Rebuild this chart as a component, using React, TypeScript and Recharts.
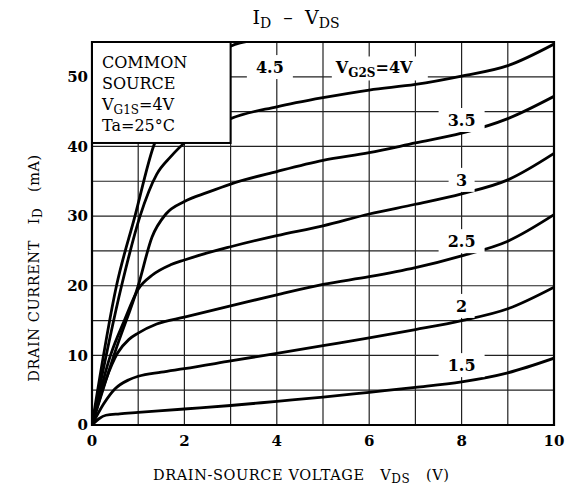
import React from 'react';
import { LineChart, Line, XAxis, YAxis, CartesianGrid, ReferenceArea, ReferenceDot } from 'recharts';

// VDS (V) and ID (mA)
const vds15 = [0, 0.15, 0.3, 0.6, 1, 2, 3, 4, 5, 6, 7, 8, 9, 10];
const id15 = [0, 0.9, 1.4, 1.6, 1.8, 2.3, 2.8, 3.4, 4.0, 4.7, 5.4, 6.2, 7.5, 9.6];

const vds20 = [0, 0.25, 0.5, 0.8, 1, 1.5, 2, 3, 4, 5, 6, 7, 8, 9, 10];
const id20 = [0, 3, 5.2, 6.5, 7, 7.6, 8.1, 9.2, 10.3, 11.4, 12.5, 13.7, 15.0, 16.7, 19.8];

const vds25 = [0, 0.3, 0.55, 0.8, 1, 1.4, 2, 3, 4, 5, 6, 7, 8, 9, 10];
const id25 = [0, 6.5, 10.3, 12.3, 13.2, 14.5, 15.5, 17.1, 18.7, 20.2, 21.3, 22.6, 24.3, 26.4, 30.2];

const vds30 = [0, 0.4, 0.7, 1, 1.3, 1.7, 2, 3, 4, 5, 6, 7, 8, 9, 10];
const id30 = [0, 10, 15, 19.5, 21.5, 23, 23.7, 25.6, 27.2, 28.6, 30.3, 31.7, 33.2, 35.2, 39];

const vds35 = [0, 0.5, 1, 1.3, 1.6, 2, 2.5, 3, 4, 5, 6, 7, 8, 9, 10];
const id35 = [0, 10.5, 20, 27, 30.3, 32.1, 33.4, 34.6, 36.4, 38.0, 39.1, 40.5, 41.9, 44.0, 47.2];

const vds40 = [0, 0.64, 1.04, 1.4, 1.7, 2, 2.5, 3, 4, 5, 6, 7, 8, 9, 10];
const id40 = [0, 20, 30, 36, 38.5, 40.5, 42.4, 44, 45.7, 47, 48.1, 48.9, 50.1, 51.6, 54.7];

const vds45 = [0, 0.53, 0.93, 1.33, 1.7, 2.2, 3, 3.6];
const id45 = [0, 20, 30, 40, 45, 49.5, 54.4, 55.3];

const xTicks = [0, 1, 2, 3, 4, 5, 6, 7, 8, 9, 10];
const yTicks = [0, 5, 10, 15, 20, 25, 30, 35, 40, 45, 50, 55];

// curve labels: [text, vds, id]
const curveLabels: [string, number, number][] = [
  ['4.5', 3.85, 51.4],
  ['3.5', 8, 43.8],
  ['3', 8, 35.2],
  ['2.5', 8, 26.4],
  ['2', 8, 17.1],
  ['1.5', 8, 8.6],
];

// conditions box, in data units
const boxX = [0, 3];
const boxY = [40.5, 55];

const toPoints = (xs: number[], ys: number[]) => xs.map((v, i) => ({ vds: v, id: ys[i] }));

const curves = [
  toPoints(vds15, id15),
  toPoints(vds20, id20),
  toPoints(vds25, id25),
  toPoints(vds30, id30),
  toPoints(vds35, id35),
  toPoints(vds40, id40),
  toPoints(vds45, id45),
];

const W = 573;
const H = 491;
const M = { top: 42, right: 19, bottom: 36, left: 0 };
const Y_AXIS_W = 92;
const X_MAX = 10;
const Y_MAX = 55;
const plotL = M.left + Y_AXIS_W;
const plotW = W - M.right - plotL;
const plotH = H - M.top - M.bottom - 30;
const sx = (v: number) => plotL + (v / X_MAX) * plotW;
const sy = (v: number) => M.top + ((Y_MAX - v) / Y_MAX) * plotH;

const FONT = '"DejaVu Serif", "Liberation Serif", serif';

const labelShape = (txt: string) => (p: any) => {
  const w = txt.length * 10 + 16;
  return (
    <g>
      <rect x={p.cx - w / 2} y={p.cy - 12} width={w} height={24} fill="#fff" />
      <text x={p.cx} y={p.cy + 6} textAnchor="middle" fontFamily={FONT} fontSize={16} fontWeight="bold" fill="#000">
        {txt}
      </text>
    </g>
  );
};

const vg2sShape = (p: any) => (
  <g>
    <rect x={p.cx - 48} y={p.cy - 12} width={96} height={24} fill="#fff" />
    <text x={p.cx - 44} y={p.cy + 5} fontFamily={FONT} fontSize={16} fontWeight="bold" fill="#000">
      V<tspan fontSize={12} dy={4}>G2S</tspan>
      <tspan dy={-4}>=4V</tspan>
    </text>
  </g>
);

const pre: React.CSSProperties = { whiteSpace: 'pre' };

const App: React.FC = () => {
  const bx = sx(boxX[0]);
  const by = sy(boxY[1]);
  const bw = sx(boxX[1]) - bx;
  const bh = sy(boxY[0]) - by;
  return (
    <div style={{ position: 'absolute', left: 0, top: 0, width: W, height: H, background: '#fff' }}>
      <LineChart width={W} height={H} margin={M}>
        <CartesianGrid stroke="#222" strokeWidth={1.2} />
        <XAxis
          dataKey="vds"
          type="number"
          domain={[0, X_MAX]}
          ticks={xTicks}
          height={30}
          tickFormatter={(v: number) => (v % 2 === 0 ? String(v) : '')}
          tickLine={false}
          axisLine={false}
          tickSize={0}
          tickMargin={10}
          tick={{ fill: '#000', fontFamily: FONT, fontSize: 15, fontWeight: 'bold' }}
          allowDataOverflow
        />
        <YAxis
          type="number"
          domain={[0, Y_MAX]}
          ticks={yTicks}
          width={Y_AXIS_W}
          tickFormatter={(v: number) => (v % 10 === 0 && v <= 50 ? String(v) : '')}
          tickLine={false}
          axisLine={false}
          tickSize={0}
          tickMargin={4}
          tick={{ fill: '#000', fontFamily: FONT, fontSize: 15, fontWeight: 'bold' }}
          allowDataOverflow
        />
        {curveLabels.map(([t, x, y]) => (
          <ReferenceDot key={t} x={x} y={y} r={0} shape={labelShape(t)} />
        ))}
        <ReferenceDot x={6.23} y={51.2} r={0} shape={vg2sShape} />
        {curves.map((d, i) => (
          <Line
            key={i}
            data={d}
            dataKey="id"
            type="monotone"
            stroke="#000"
            strokeWidth={2.8}
            dot={false}
            isAnimationActive={false}
          />
        ))}
        <ReferenceArea x1={0} x2={X_MAX} y1={0} y2={Y_MAX} fill="none" fillOpacity={0} stroke="#000" strokeWidth={2.2} />
      </LineChart>
      <svg width={W} height={H} style={{ position: 'absolute', left: 0, top: 0, pointerEvents: 'none' }}>
        <rect x={bx} y={by} width={bw} height={bh} fill="#fff" stroke="#000" strokeWidth={2} />
        <line x1={plotL} y1={M.top} x2={sx(X_MAX)} y2={M.top} stroke="#000" strokeWidth={2.2} />
        <g fontFamily={FONT} fontSize={16} fill="#000">
          <text x={bx + 10} y={by + 26}>COMMON</text>
          <text x={bx + 10} y={by + 47}>SOURCE</text>
          <text x={bx + 10} y={by + 68}>
            V<tspan fontSize={12} dy={4}>G1S</tspan>
            <tspan dy={-4}>=4V</tspan>
          </text>
          <text x={bx + 10} y={by + 89}>Ta=25°C</text>
        </g>
        <text x={296} y={24} textAnchor="middle" fontFamily={FONT} fontSize={19} fill="#000" style={pre}>
          I<tspan fontSize={14} dy={4}>D</tspan>
          <tspan dy={-4}>{'  –  '}V</tspan>
          <tspan fontSize={14} dy={4}>DS</tspan>
        </text>
        <text x={153} y={480} fontFamily={FONT} fontSize={14.5} letterSpacing={0.6} fill="#000" style={pre}>
          {'DRAIN-SOURCE VOLTAGE   V'}
          <tspan fontSize={12} dy={3}>DS</tspan>
          <tspan dy={-3}>{'   (V)'}</tspan>
        </text>
        <text
          transform="translate(39,268) rotate(-90)"
          textAnchor="middle"
          fontFamily={FONT}
          fontSize={14.5}
          letterSpacing={0.6}
          fill="#000"
          style={pre}
        >
          {'DRAIN CURRENT   I'}
          <tspan fontSize={12} dy={3}>D</tspan>
          <tspan dy={-3}>{'   (mA)'}</tspan>
        </text>
      </svg>
    </div>
  );
};

export default App;
